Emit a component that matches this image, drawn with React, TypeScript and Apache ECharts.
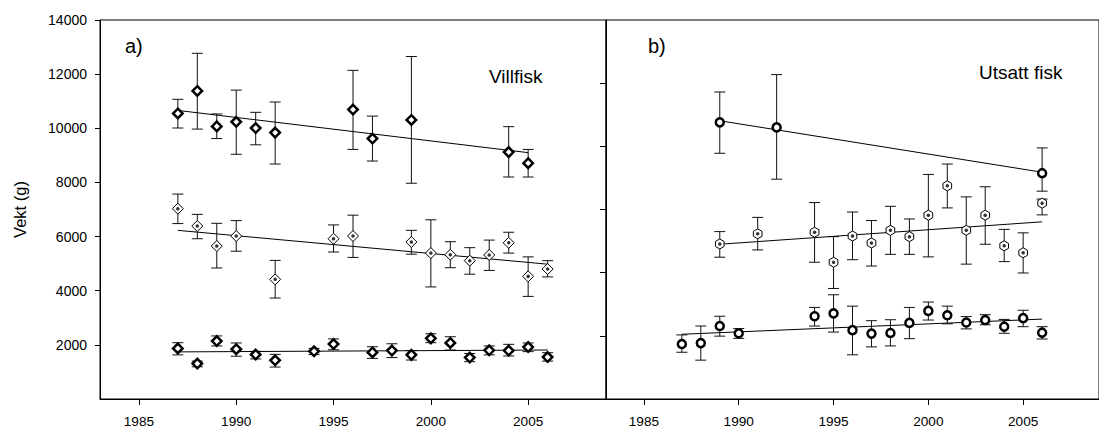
import React, { useEffect, useRef } from "react";
import * as echarts from "echarts";

// Panel a) – wild fish (Villfisk), three size groups
const wildLargeYears = [1987, 1988, 1989, 1990, 1991, 1992, 1996, 1997, 1999, 2004, 2005];
const wildLargeMean = [10550, 11380, 10070, 10240, 10010, 9840, 10690, 9620, 10310, 9120, 8710];
const wildLargeUpper = [11070, 12770, 10530, 11410, 10590, 10970, 12140, 10450, 12650, 10060, 9220];
const wildLargeLower = [10010, 9970, 9620, 9040, 9390, 8680, 9220, 8790, 7970, 8200, 8200];

const wildMidYears = [1987, 1988, 1989, 1990, 1992, 1995, 1996, 1999, 2000, 2001, 2002, 2003, 2004, 2005, 2006];
const wildMidMean = [7030, 6390, 5650, 6020, 4420, 5920, 6020, 5800, 5390, 5330, 5110, 5320, 5770, 4530, 4800];
const wildMidUpper = [7570, 6820, 6490, 6590, 5120, 6430, 6790, 6230, 6620, 5810, 5590, 5870, 6160, 5250, 5110];
const wildMidLower = [6480, 5920, 4840, 5460, 3730, 5430, 5230, 5350, 4140, 4850, 4610, 4750, 5390, 3790, 4510];

const wildSmallYears = [1987, 1988, 1989, 1990, 1991, 1992, 1994, 1995, 1997, 1998, 1999, 2000, 2001, 2002, 2003, 2004, 2005, 2006];
const wildSmallMean = [1870, 1310, 2140, 1840, 1640, 1430, 1760, 2030, 1720, 1790, 1630, 2240, 2070, 1530, 1800, 1790, 1920, 1550];
const wildSmallUpper = [2080, 1400, 2330, 2070, 1760, 1650, 1870, 2220, 1930, 2040, 1790, 2410, 2300, 1680, 1960, 2020, 2070, 1710];
const wildSmallLower = [1630, 1190, 1960, 1580, 1480, 1180, 1640, 1820, 1500, 1530, 1440, 2080, 1810, 1380, 1630, 1590, 1750, 1400];

// Panel b) – stocked fish (Utsatt fisk)
const stockLargeYears = [1989, 1992, 2006];
const stockLargeMean = [8760, 8600, 7150];
const stockLargeUpper = [9720, 10270, 7950];
const stockLargeLower = [7780, 6960, 6580];

const stockMidYears = [1989, 1991, 1994, 1995, 1996, 1997, 1998, 1999, 2000, 2001, 2002, 2003, 2004, 2005, 2006];
const stockMidMean = [4910, 5230, 5280, 4330, 5160, 4940, 5340, 5140, 5820, 6750, 5340, 5820, 4850, 4630, 6200];
const stockMidUpper = [5300, 5750, 6220, 5140, 5920, 5650, 6100, 5700, 7110, 7440, 6400, 6720, 5370, 5260, 6330];
const stockMidLower = [4490, 4720, 4330, 3500, 4410, 4210, 4580, 4580, 4500, 6050, 4270, 4900, 4350, 3990, 5830];

const stockSmallYears = [1987, 1988, 1989, 1990, 1994, 1995, 1996, 1997, 1998, 1999, 2000, 2001, 2002, 2003, 2004, 2005, 2006];
const stockSmallMean = [1740, 1770, 2310, 2080, 2620, 2710, 2180, 2070, 2090, 2410, 2790, 2650, 2420, 2500, 2290, 2560, 2100];
const stockSmallUpper = [2030, 2310, 2620, 2230, 2900, 3300, 2940, 2480, 2510, 2900, 3070, 2940, 2610, 2670, 2520, 2810, 2290];
const stockSmallLower = [1480, 1230, 1990, 1920, 2310, 2120, 1400, 1650, 1680, 1910, 2500, 2380, 2220, 2350, 2080, 2290, 1900];

// Linear trend end points for each group
const wildLargeTrendYears = [1987, 2005];
const wildLargeTrend = [10660, 9100];
const wildMidTrendYears = [1987, 2006];
const wildMidTrend = [6230, 4980];
const wildSmallTrendYears = [1987, 2006];
const wildSmallTrend = [1740, 1810];
const stockLargeTrendYears = [1989, 2006];
const stockLargeTrend = [8810, 7180];
const stockMidTrendYears = [1989, 2006];
const stockMidTrend = [4900, 5610];
const stockSmallTrendYears = [1987, 2006];
const stockSmallTrend = [2050, 2530];

// Axis ticks
const yearTicks = [1985, 1990, 1995, 2000, 2005];
const leftWeightTicks = [2000, 4000, 6000, 8000, 10000, 12000, 14000];
const rightWeightTicks = [2000, 4000, 6000, 8000, 10000];

const FONT = '"Liberation Sans", Arial, sans-serif';
const HEX = "path://M0,-1L0.866,-0.5L0.866,0.5L0,1L-0.866,0.5L-0.866,-0.5Z";

const zip = (a: number[], b: number[]) => a.map((v, i) => [v, b[i]]);
const plain = (v: number) => String(v);

function errorBars(idx: number, years: number[], lo: number[], hi: number[]) {
  return {
    type: "custom",
    xAxisIndex: idx,
    yAxisIndex: idx,
    z: 2,
    data: years.map((y, i) => [y, lo[i], hi[i]]),
    renderItem: (_p: any, api: any) => {
      const x = api.value(0);
      const a = api.coord([x, api.value(1)]);
      const b = api.coord([x, api.value(2)]);
      const h = 5.5;
      const style = { stroke: "#111", lineWidth: 1 };
      return {
        type: "group",
        children: [
          { type: "line", shape: { x1: a[0], y1: a[1], x2: b[0], y2: b[1] }, style },
          { type: "line", shape: { x1: a[0] - h, y1: a[1], x2: a[0] + h, y2: a[1] }, style },
          { type: "line", shape: { x1: b[0] - h, y1: b[1], x2: b[0] + h, y2: b[1] }, style },
        ],
      };
    },
  };
}

function trend(idx: number, years: number[], vals: number[]) {
  return {
    type: "line",
    xAxisIndex: idx,
    yAxisIndex: idx,
    z: 3,
    symbol: "none",
    data: zip(years, vals),
    lineStyle: { color: "#000", width: 1 },
  };
}

function marks(idx: number, years: number[], mean: number[], symbol: string, size: number, border: number) {
  return {
    type: "scatter",
    xAxisIndex: idx,
    yAxisIndex: idx,
    z: 4,
    symbol,
    symbolSize: size,
    symbolKeepAspect: true,
    data: zip(years, mean),
    itemStyle: { color: "#fff", borderColor: "#000", borderWidth: border, opacity: 1 },
  };
}

function dots(idx: number, years: number[], mean: number[]) {
  return {
    type: "scatter",
    xAxisIndex: idx,
    yAxisIndex: idx,
    z: 5,
    symbol: "circle",
    symbolSize: 3.5,
    data: zip(years, mean),
    itemStyle: { color: "#000" },
  };
}

function xAxisFor(idx: number) {
  return {
    type: "value",
    gridIndex: idx,
    min: 1983,
    max: 2009,
    axisLine: { show: true, lineStyle: { color: "#000", width: 1 } },
    axisTick: { show: true, customValues: yearTicks, length: 6, lineStyle: { color: "#000" } },
    axisLabel: { customValues: yearTicks, formatter: plain, fontSize: 13.6, fontFamily: FONT, color: "#000", margin: 15 },
    splitLine: { show: false },
  };
}

export default function App() {
  const ref = useRef<HTMLDivElement>(null);

  useEffect(() => {
    if (!ref.current) return;
    const chart = echarts.init(ref.current, undefined, { renderer: "svg" });
    chart.setOption({
      animation: false,
      backgroundColor: "#fff",
      grid: [
        { left: 100, top: 20, width: 506, height: 379, show: true, borderColor: "#000", borderWidth: 1 },
        { left: 606, top: 20, width: 506.5, height: 379, show: true, borderColor: "#000", borderWidth: 1 },
      ],
      xAxis: [xAxisFor(0), xAxisFor(1)],
      yAxis: [
        {
          type: "value",
          gridIndex: 0,
          min: 0,
          max: 14000,
          name: "Vekt (g)",
          nameLocation: "middle",
          nameRotate: 90,
          nameGap: 72,
          nameTextStyle: { fontSize: 16.5, fontFamily: FONT, color: "#000" },
          axisLine: { show: true, lineStyle: { color: "#000", width: 1 } },
          axisTick: { show: true, customValues: leftWeightTicks, length: 5, lineStyle: { color: "#000" } },
          axisLabel: { customValues: leftWeightTicks, formatter: plain, fontSize: 14, fontFamily: FONT, color: "#000", margin: 13 },
          splitLine: { show: false },
        },
        {
          type: "value",
          gridIndex: 1,
          min: 0,
          max: 12000,
          axisLine: { show: true, lineStyle: { color: "#000", width: 1 } },
          axisTick: { show: true, customValues: rightWeightTicks, length: 6, lineStyle: { color: "#000" } },
          axisLabel: { show: false },
          splitLine: { show: false },
        },
      ],
      graphic: [
        { type: "text", x: 125, y: 46, style: { text: "a)", fontSize: 20, fontFamily: FONT, fill: "#000", align: "left", verticalAlign: "middle" } },
        { type: "text", x: 489, y: 76, style: { text: "Villfisk", fontSize: 19, fontFamily: FONT, fill: "#000", align: "left", verticalAlign: "middle" } },
        { type: "text", x: 648, y: 46, style: { text: "b)", fontSize: 20, fontFamily: FONT, fill: "#000", align: "left", verticalAlign: "middle" } },
        { type: "text", x: 979, y: 72, style: { text: "Utsatt fisk", fontSize: 19, fontFamily: FONT, fill: "#000", align: "left", verticalAlign: "middle" } },
      ],
      series: [
        errorBars(0, wildLargeYears, wildLargeLower, wildLargeUpper),
        errorBars(0, wildMidYears, wildMidLower, wildMidUpper),
        errorBars(0, wildSmallYears, wildSmallLower, wildSmallUpper),
        errorBars(1, stockLargeYears, stockLargeLower, stockLargeUpper),
        errorBars(1, stockMidYears, stockMidLower, stockMidUpper),
        errorBars(1, stockSmallYears, stockSmallLower, stockSmallUpper),
        trend(0, wildLargeTrendYears, wildLargeTrend),
        trend(0, wildMidTrendYears, wildMidTrend),
        trend(0, wildSmallTrendYears, wildSmallTrend),
        trend(1, stockLargeTrendYears, stockLargeTrend),
        trend(1, stockMidTrendYears, stockMidTrend),
        trend(1, stockSmallTrendYears, stockSmallTrend),
        marks(0, wildLargeYears, wildLargeMean, "diamond", 9.5, 2.5),
        marks(0, wildMidYears, wildMidMean, "diamond", 11, 1),
        dots(0, wildMidYears, wildMidMean),
        marks(0, wildSmallYears, wildSmallMean, "diamond", 9.5, 2.5),
        marks(1, stockLargeYears, stockLargeMean, "circle", 8, 2.5),
        marks(1, stockMidYears, stockMidMean, HEX, 10, 1),
        dots(1, stockMidYears, stockMidMean),
        marks(1, stockSmallYears, stockSmallMean, "circle", 8, 2.5),
      ],
    });
    return () => chart.dispose();
  }, []);

  return (
    <div
      ref={ref}
      style={{ position: "absolute", left: 0, top: 0, width: 1099, height: 429, overflow: "hidden" }}
    />
  );
}
